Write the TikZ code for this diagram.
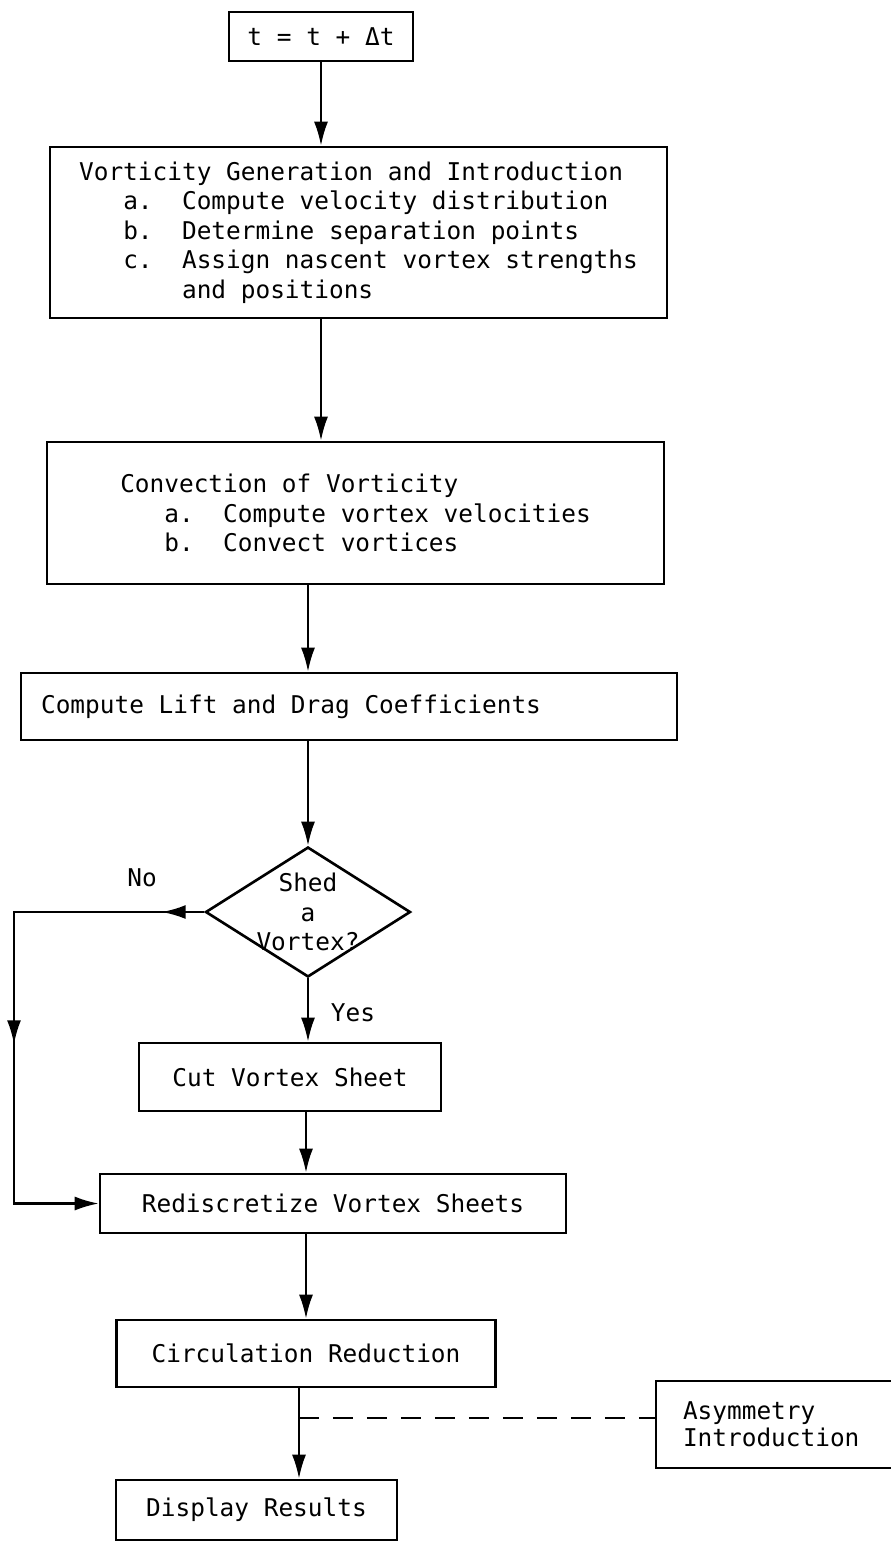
\documentclass[tikz,border=0pt]{standalone}
\usepackage{fontspec}
\newfontfamily\boxfont{DejaVu Sans Mono}
\usetikzlibrary{
	arrows.meta,
	positioning,
	calc,
	shapes.geometric,
	decorations.markings
}
\newcommand{\lettering}{\boxfont\fontsize{13.9}{16.8}\selectfont}
\newcommand{\colgap}[1]{\hspace*{#1\fontcharwd\font`x}}

\begin{document}
\begin{tikzpicture}[
		x=0.02cm, y=-0.02cm,
		box/.style={draw, line width=1.5pt, align=left, inner sep=0pt, font=\lettering},
		decision/.style={draw, diamond, line width=1.5pt, inner sep=0pt, minimum width=4.1cm, minimum height=2.6cm},
		arrow/.style={-{Latex[length=0.48cm,width=0.28cm]}, line width=1.3pt},
		link/.style={line width=1.3pt, dash pattern=on 0.4cm off 0.28cm},
		tag/.style={font=\lettering}
		]
		\useasboundingbox (0,0) rectangle (890,1543);
		
		% =========================
		% Main loop
		% =========================
		\node[box, align=center, minimum width=3.68cm, minimum height=0.98cm] (tstep) at (321,36.5) {t = t + Δt};
		
		\node[box, minimum width=12.34cm, minimum height=3.42cm] (vortgen) at (358.5,232.5) {Vorticity Generation and Introduction\\
			\colgap{3}a.\colgap{2}Compute velocity distribution\\
			\colgap{3}b.\colgap{2}Determine separation points\\
			\colgap{3}c.\colgap{2}Assign nascent vortex strengths\\
			\colgap{7}and positions};
		
		\node[box, minimum width=12.34cm, minimum height=2.84cm] (convect) at (355.5,513) {Convection of Vorticity\\
			\colgap{3}a.\colgap{2}Compute vortex velocities\\
			\colgap{3}b.\colgap{2}Convect vortices};
		
		\node[box, inner xsep=0.4cm, minimum height=1.34cm] (liftdrag) at (349,706.5) {\makebox[12.32cm][l]{Compute Lift and Drag Coefficients}};
		
		% Decision
		\node[decision, label={[tag, align=center, font=\boxfont\fontsize{13.9}{17}\selectfont]center:{Shed\\a\\Vortex?}}] (shed) at (308,912) {};
		\node[tag] (nolbl) at (142,878) {No};
		\node[tag] (yeslbl) at (353,1013) {Yes};
		
		\node[box, align=center, minimum width=6.04cm, minimum height=1.36cm] (cut) at (290,1077) {Cut Vortex Sheet};
		\node[box, align=center, minimum width=9.32cm, minimum height=1.18cm] (redisc) at (333,1203.5) {Rediscretize Vortex Sheets};
		\node[box, align=center, minimum width=7.58cm, minimum height=1.34cm] (circ) at (306,1353.5) {Circulation Reduction};
		\node[box, align=center, minimum width=5.62cm, minimum height=1.2cm] (display) at (256.5,1510) {Display Results};
		
		% Side input
		\node[box, inner xsep=0.54cm, minimum height=1.74cm, font=\boxfont\fontsize{13.9}{15.4}\selectfont] (asym) at (778,1424.5) {\makebox[3.8cm][l]{Asymmetry}\\Introduction};
		
		\coordinate (tap) at (299,1418);
		\coordinate (nocorner) at (14,912);
		
		% =========================
		% Arrows
		% =========================
		\draw[arrow] (tstep.south) -- (tstep.south |- vortgen.north);
		\draw[arrow] (vortgen.south -| tstep) -- (tstep |- convect.north);
		\draw[arrow] (convect.south -| shed) -- (shed |- liftdrag.north);
		\draw[arrow] (liftdrag.south -| shed) -- (shed.north);
		\draw[arrow] (shed.south) -- (shed |- cut.north);
		\draw[arrow] (cut.south -| circ) -- (circ |- redisc.north);
		\draw[arrow] (redisc.south -| circ) -- (circ.north);
		\draw[arrow] (circ.south -| tap) -- (display.north -| tap);
		
		% No branch skips the cut
		\draw[arrow, postaction={decorate}, decoration={markings,
				mark=at position 0.85cm with {\arrow{Latex[length=0.48cm,width=0.28cm]}},
				mark=at position 6.45cm with {\arrow{Latex[length=0.48cm,width=0.28cm]}}}]
			(shed.west) -- (nocorner) |- (redisc.west);
		
		% Asymmetry feeds in
		\draw[link] (tap) -- (tap -| asym.west);
		
	\end{tikzpicture}
\end{document}
